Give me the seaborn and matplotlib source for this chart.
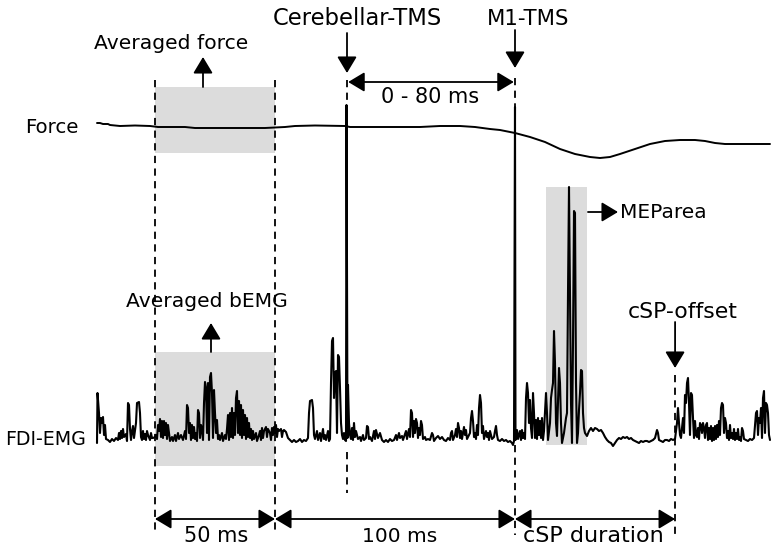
import numpy as np
import pandas as pd
import matplotlib
matplotlib.use("Agg")
import matplotlib.pyplot as plt
import seaborn as sns
from matplotlib.patches import Rectangle

# sampling: 2.4 samples per ms, M1-TMS pulse at sample 418
fs = 2.4
m1_sample = 418

# event times (ms, relative to M1-TMS)
cb_tms = -70.0
m1_tms = 0.0
csp_offset = 66.7
bemg_window = (-150.0, -100.0)
mep_window = (12.9, 30.0)

# force trace: (sample, deflection)
force_trace = [
    (0, 3), (3, 3), (6, 2), (11, 2), (13, 1), (23, 0), (38, 0.5), (53, 0), (61, -1),
    (88, -1), (98, -2), (168, -2), (178, -1.5), (188, -1), (198, 0), (218, 0.5),
    (248, 0), (253, -1), (323, -1), (343, 0), (363, 0), (378, -1), (393, -3),
    (403, -4), (418, -7), (433, -11), (448, -16), (463, -23), (478, -28),
    (493, -31), (503, -32), (513, -31), (523, -28), (538, -23), (553, -18),
    (568, -15), (583, -14), (598, -14), (608, -15), (618, -17), (628, -18), (673, -18),
]

# FDI-EMG trace: (sample, amplitude)
emg_trace = [
    (0, 0), (0.5, 50), (2, 30), (3, 10), (4, 25), (5, 20), (6, 26), (7, 8), (8, 18), (9, 4),
    (11, 3), (13, 1), (15, 4), (17, 2), (19, 5), (21, 3), (22, 10), (23, 4), (24, 12), (25, 5),
    (26, 14), (27, 6), (29, 9), (30, 2), (31, 40), (32, 38), (33, 14), (34, 3), (35, 12), (36, 17),
    (37, 5), (39, 20), (40, 40), (42, 41), (43, 30), (44, 6), (45, 3), (46, 12), (47, 4), (48, 9),
    (49, 3), (50, 12), (51, 8), (53, 3), (54, 10), (55, 5), (56, 5), (58, 6),
    (59, 8), (60, 4), (61, 18), (62, 12), (63, 24), (64, 6), (65, 22), (66, 5), (67, 22), (68, 8),
    (69, 20), (70, 4), (71, 18), (72, 10), (73, 2), (75, 6), (76, 2), (78, 8), (79, 2), (81, 10),
    (82, 4), (84, 8), (86, 3), (88, 12), (89, 4), (90, 38), (91, 35), (92, 10), (93, 20), (94, 3),
    (95, 18), (96, 5), (97, 16), (98, 4), (99, 10), (100, 2), (101, 33), (102, 30), (103, 5), (104, 18),
    (105, 14), (106, 3), (107, 40), (108, 61), (109, 55), (110, 10), (111, 60), (112, 3), (113, 66), (114, 70),
    (115, 50), (116, 5), (117, 53), (118, 30), (119, 10), (120, 23), (121, 4), (122, 8), (123, 3), (125, 10),
    (126, 2), (128, 8), (129, 4), (130, 14), (131, 28), (132, 3), (133, 30), (134, 6), (135, 35), (136, 5),
    (137, 30), (138, 8), (139, 45), (140, 52), (141, 10), (142, 42), (143, 8), (144, 38), (145, 5), (146, 33),
    (147, 8), (148, 28), (149, 4), (150, 25), (151, 6), (152, 20), (153, 5), (154, 14), (155, 3), (156, 12),
    (157, 4), (159, 10), (160, 2), (162, 8), (163, 12), (164, 3), (165, 15), (166, 5), (167, 12), (169, 16),
    (170, 6), (171, 14), (173, 10), (174, 3), (175, 15), (176, 8), (177, 16), (178, 10),
    (179, 18), (180, 6), (181, 14), (182, 12), (184, 14), (185, 6), (186, 12), (187, 13), (189, 11), (191, 5),
    (193, 3), (195, 1), (197, 3), (199, 1), (201, 2), (203, 4), (205, 1), (207, 3), (209, 2), (211, 5),
    (212, 30), (213, 42), (215, 43), (216, 35), (217, 8), (218, 4), (220, 12), (221, 3), (223, 10), (224, 2),
    (226, 14), (227, 4), (228, 8), (229, 3), (231, 12), (232, 2), (233, 4), (234, 60), (235, 102), (236, 105),
    (237, 45), (238, 70), (239, 72), (240, 10), (241, 88), (242, 86), (243, 55), (244, 20), (245, 8), (246, 4),
    (247, 10), (248, 3), (249, 2), (249.5, 338), (250.5, 5), (251, 58), (252, 20), (253, 8),
    (254, 4), (255, 15), (256, 3), (257, 20), (258, 6), (259, 12), (261, 4), (263, 6), (264, 2), (266, 8),
    (267, 3), (269, 5), (270, 17), (271, 16), (272, 4), (273, 6), (275, 2), (277, 12), (278, 4), (279, 13),
    (281, 5), (283, 10), (285, 3), (287, 1), (289, 3), (291, 1), (293, 4), (295, 2), (297, 3), (299, 8),
    (300, 3), (302, 10), (303, 5), (305, 7), (306, 3), (308, 9), (309, 12), (310, 4), (312, 14), (313, 6),
    (314, 33), (315, 30), (316, 6), (317, 22), (318, 10), (319, 24), (320, 20), (321, 5), (322, 15), (323, 8),
    (324, 22), (325, 18), (326, 4), (328, 6), (329, 3), (331, 4), (333, 3), (335, 10), (336, 8), (337, 2),
    (339, 5), (341, 7), (343, 4), (345, 6), (347, 3), (349, 2), (351, 5), (353, 3), (354, 10), (355, 12),
    (356, 3), (358, 8), (359, 14), (360, 6), (361, 20), (362, 15), (363, 5), (364, 12), (365, 4), (367, 16),
    (368, 8), (369, 13), (370, 4), (371, 6), (373, 10), (374, 25), (375, 32), (376, 22), (377, 6), (378, 10),
    (379, 4), (380, 18), (381, 8), (382, 35), (383, 48), (384, 40), (385, 10), (386, 17), (387, 4), (389, 12),
    (390, 6), (391, 10), (392, 3), (393, 12), (394, 8), (395, 4), (397, 6), (398, 12), (399, 17), (400, 8),
    (401, 3), (403, 2), (405, 4), (407, 2), (409, 3), (411, 1), (413, 2), (415, 0), (416, -2), (417, 2),
    (418, 336), (418.5, 3),
    (419, 10), (420, 13), (421, 4), (422, 8), (423, 12), (424, 3), (425, 13), (426, 5), (427, 10), (428, 4),
    (429, 45), (430, 60), (431, 50), (432, 20), (433, 43), (434, 15), (435, 5), (436, 50), (437, 30), (438, 5),
    (439, 23), (440, 4), (441, 25), (442, 8), (443, 22), (444, 5), (445, 25), (446, 3), (447, 12), (448, 30),
    (449, 50), (450, 30), (451, 3), (453, 20), (454, 45), (455, 53), (456, 60), (457, 112), (458, 80), (459, 20),
    (460, 7), (461, 40), (462, 75), (463, 60), (464, 20), (465, 0), (467, 10), (469, 25), (470, 30), (471, 150),
    (472, 256), (473, 150), (474, 40), (475, 0), (476, 100), (477, 232), (478, 230), (479, 60), (480, 0), (481, 10),
    (482, 33), (483, 50), (484, 73), (485, 72), (486, 30), (487, 15), (488, 10), (490, 7),
    (492, 12), (494, 15), (496, 12), (498, 15), (500, 14), (502, 12), (504, 13), (506, 10), (508, 6), (510, 3),
    (512, 1), (514, 0), (516, -3), (518, 0), (520, 3), (522, 5), (524, 4), (526, 6), (528, 5), (530, 6),
    (532, 4), (534, 5), (536, 3), (538, 2), (540, 1), (542, 0), (544, 2), (546, 1), (548, 2), (550, 2),
    (552, 1), (554, 2), (556, 3), (558, 5), (560, 13), (561, 10), (562, 3), (564, 2), (566, 1), (568, 3),
    (570, 3), (572, 2), (574, 4), (576, 3), (578, 4), (579, 12), (580, 20), (581, 35), (582, 20), (583, 8),
    (584, 5), (585, 15), (586, 25), (587, 10), (588, 48), (589, 40), (590, 60), (591, 65), (592, 40), (593, 8),
    (594, 50), (595, 48), (596, 25), (597, 5), (598, 22), (599, 8), (600, 6), (601, 15), (602, 4), (603, 20),
    (604, 18), (605, 10), (606, 20), (607, 15), (608, 5), (609, 18), (610, 20), (611, 3), (612, 15), (613, 4),
    (614, 17), (615, 2), (616, 15), (617, 3), (618, 17), (619, 4), (620, 18), (621, 6), (622, 22), (623, 8),
    (624, 35), (625, 40), (626, 38), (627, 10), (628, 25), (629, 20), (630, 5), (631, 12), (632, 3), (633, 18),
    (634, 5), (635, 10), (636, 4), (637, 14), (638, 3), (639, 10), (640, 4), (641, 14), (642, 3), (643, 6),
    (644, 2), (645, 15), (646, 12), (647, 4), (649, 3), (651, 2), (653, 4), (655, 3), (657, 5), (658, 18),
    (659, 30), (660, 32), (661, 8), (662, 25), (663, 20), (664, 35), (665, 5), (666, 45), (667, 52), (668, 10),
    (669, 40), (670, 38), (671, 30), (672, 8), (673, 3),
]

force_df = pd.DataFrame(force_trace, columns=["sample", "value"])
emg_df = pd.DataFrame(emg_trace, columns=["sample", "value"])
force_df["ms"] = (force_df["sample"] - m1_sample) / fs
emg_df["ms"] = (emg_df["sample"] - m1_sample) / fs

# vertical layout (axis units, 0 = bottom of figure)
force_base = 428
emg_base = 111
force_df["y"] = force_base + force_df["value"]
emg_df["y"] = emg_base + emg_df["value"]

sns.set_style("white")
plt.rcParams["font.family"] = ["DejaVu Sans"]
plt.rcParams["text.color"] = "black"

fig = plt.figure(figsize=(7.74, 5.54), dpi=100)
ax = fig.add_axes([0, 0, 1, 1])


def px(x):
    # horizontal layout helper: figure pixel -> ms
    return (x - 515) / fs


ax.set_xlim(px(0), px(774))
ax.set_ylim(0, 554)
ax.axis("off")

grey = "#dcdcdc"
ax.add_patch(Rectangle((bemg_window[0], 401), bemg_window[1] - bemg_window[0], 66,
                       color=grey, lw=0, zorder=0))
ax.add_patch(Rectangle((bemg_window[0], 88), bemg_window[1] - bemg_window[0], 114,
                       color=grey, lw=0, zorder=0))
ax.add_patch(Rectangle((mep_window[0], 109), mep_window[1] - mep_window[0], 258,
                       color=grey, lw=0, zorder=0))

sns.lineplot(data=force_df, x="ms", y="y", sort=False, estimator=None,
             color="black", lw=1.4, ax=ax)
sns.lineplot(data=emg_df, x="ms", y="y", sort=False, estimator=None,
             color="black", lw=1.5, ax=ax)

dash = dict(color="black", lw=1.3, linestyle=(0, (4, 3)), zorder=3)
ax.plot([bemg_window[0]] * 2, [474, 19], **dash)
ax.plot([bemg_window[1]] * 2, [474, 19], **dash)
ax.plot([cb_tms] * 2, [474, 449], **dash)
ax.plot([cb_tms] * 2, [102, 61], **dash)
ax.plot([m1_tms] * 2, [476, 447], **dash)
ax.plot([m1_tms] * 2, [109, 19], **dash)
ax.plot([csp_offset] * 2, [179, 19], **dash)

head = "head_length=0.5,head_width=0.3"


def arrow(x0, y0, x1, y1, style="-|>"):
    ax.annotate("", xy=(x1, y1), xytext=(x0, y0),
                arrowprops=dict(arrowstyle=f"{style},{head}", color="black", lw=1.3,
                                shrinkA=0, shrinkB=0, mutation_scale=20))


arrow(px(203), 467, px(203), 497)
arrow(cb_tms, 521, cb_tms, 481)
arrow(m1_tms, 524, m1_tms, 486)
arrow(cb_tms + 0.5, 472, m1_tms - 0.5, 472, "<|-|>")
arrow(px(211), 202, px(211), 231)
arrow(mep_window[1] + 0.4, 342, px(618), 342)
arrow(csp_offset, 232, csp_offset, 186)
arrow(bemg_window[0], 35, bemg_window[1], 35, "<|-|>")
arrow(bemg_window[1], 35, m1_tms, 35, "<|-|>")
arrow(m1_tms, 35, csp_offset, 35, "<|-|>")

ax.text(px(357), 529, "Cerebellar-TMS", fontsize=16.3, ha="center", va="baseline")
ax.text(px(528), 529, "M1-TMS", fontsize=15.3, ha="center", va="baseline")
ax.text(px(171), 505, "Averaged force", fontsize=14.6, ha="center", va="baseline")
ax.text(px(430), 451, "0 - 80 ms", fontsize=15, ha="center", va="baseline")
ax.text(px(25), 421, "Force", fontsize=14.2, ha="left", va="baseline")
ax.text(px(207), 247, "Averaged bEMG", fontsize=14.6, ha="center", va="baseline")
ax.text(px(5), 109, "FDI-EMG", fontsize=13.7, ha="left", va="baseline")
ax.text(px(620), 336, "MEParea", fontsize=14.5, ha="left", va="baseline")
ax.text(px(683), 236, "cSP-offset", fontsize=15.8, ha="center", va="baseline")
ax.text(px(216), 12, "50 ms", fontsize=15, ha="center", va="baseline")
ax.text(px(400), 12, "100 ms", fontsize=14.5, ha="center", va="baseline")
ax.text(px(593), 12, "cSP duration", fontsize=16, ha="center", va="baseline")

fig.savefig("out.png", dpi=100, facecolor="white")
